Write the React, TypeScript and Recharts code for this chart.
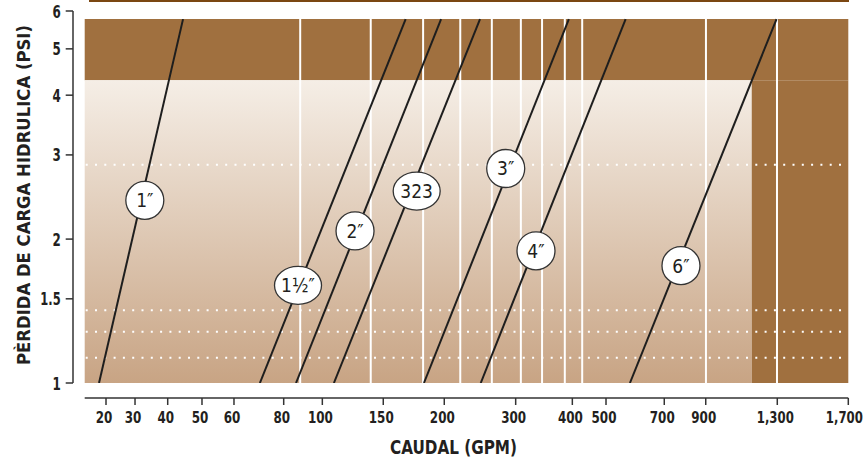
import React from "react";
import {
  LineChart,
  Line,
  XAxis,
  YAxis,
  ReferenceArea,
  ReferenceLine,
  ReferenceDot,
} from "recharts";

const FONT = '"Liberation Sans Narrow", "DejaVu Sans Condensed", "Arial Narrow", sans-serif';
const INK = "#231f20";

// Eje X: caudal (GPM)
const GPM_TICKS = [20, 30, 40, 50, 60, 80, 100, 150, 200, 300, 400, 500, 700, 900, 1300, 1700];
const GPM_TICK_LABELS = ["20", "30", "40", "50", "60", "80", "100", "150", "200", "300", "400", "500", "700", "900", "1,300", "1,700"];

// Eje Y: pérdida de carga (PSI)
const PSI_TICKS = [1, 1.5, 2, 3, 4, 5, 6];

// Curvas por diámetro
const PIPES = ["1″", "1½″", "2″", "323", "3″", "4″", "6″"];
const GPM_AT_1_PSI = [18.2, 69.7, 85.9, 108, 181.7, 246, 574];
const GPM_AT_TOP = [44.2, 166.7, 197, 245, 393, 560, 1295];
const TOP_PSI = 5.77;
const LABEL_GPM = [32.7, 86.9, 124.3, 175.6, 283.5, 332.6, 774.6];
const LABEL_PSI = [2.41, 1.6, 2.08, 2.52, 2.81, 1.89, 1.76];

// Fondo
const BAND_PSI = [4.3, 5.77];
const SHADE_END_GPM = 1140;
const GRID_GPM = [88, 138, 181, 219, 262, 308, 343, 385, 427, 901, 1298];
const DOTTED_PSI = [2.86, 1.42, 1.28, 1.13];

// la escala impresa no es un log puro: [GPM, fracción del eje]
const X_STOPS: [number, number][] = [
  [15, 0],
  [20, 0.0279],
  [30, 0.0659],
  [40, 0.1087],
  [50, 0.1536],
  [60, 0.1955],
  [80, 0.2606],
  [100, 0.3112],
  [150, 0.391],
  [200, 0.4709],
  [300, 0.5644],
  [400, 0.6386],
  [500, 0.6827],
  [700, 0.759],
  [900, 0.8133],
  [1300, 0.907],
  [1700, 1],
];

function toAxis(gpm: number): number {
  for (let i = 0; i < X_STOPS.length - 1; i++) {
    const [g0, f0] = X_STOPS[i];
    const [g1, f1] = X_STOPS[i + 1];
    if (gpm <= g1 || i === X_STOPS.length - 2) {
      const t = Math.log(gpm / g0) / Math.log(g1 / g0);
      return f0 + t * (f1 - f0);
    }
  }
  return 0;
}

const X_TICKS = GPM_TICKS.map(toAxis);

function xTickIndex(u: number): number {
  let best = 0;
  X_TICKS.forEach((t, i) => {
    if (Math.abs(t - u) < Math.abs(X_TICKS[best] - u)) best = i;
  });
  return best;
}

// ancho aproximado de la fuente condensada del original
function labelWidth(s: string): number {
  let w = 0;
  for (const ch of s) w += ch === "," || ch === "." ? 3.8 : 8.3;
  return w;
}

const lineData = PIPES.map((_, i) => [
  { u: toAxis(GPM_AT_1_PSI[i]), psi: 1 },
  { u: toAxis(GPM_AT_TOP[i]), psi: TOP_PSI },
]);

// eslint-disable-next-line @typescript-eslint/no-explicit-any
function XTick({ x, y, payload }: any) {
  const idx = xTickIndex(payload.value);
  const label = GPM_TICK_LABELS[idx];
  const last = idx === GPM_TICK_LABELS.length - 1;
  return (
    <text
      x={last ? x + 14.5 : x - 2}
      y={y + 13}
      textAnchor={last ? "end" : "middle"}
      fontSize={16}
      fontWeight={700}
      fontFamily={FONT}
      fill={INK}
      textLength={labelWidth(label)}
      lengthAdjust="spacingAndGlyphs"
    >
      {label}
    </text>
  );
}

// eslint-disable-next-line @typescript-eslint/no-explicit-any
function YTick({ x, y, payload }: any) {
  const label = String(payload.value);
  return (
    <text x={x} y={y + 6.5} textAnchor="end" fontSize={17} fontWeight={700} fontFamily={FONT} fill={INK} textLength={labelWidth(label)} lengthAdjust="spacingAndGlyphs">
      {label}
    </text>
  );
}

// eslint-disable-next-line @typescript-eslint/no-explicit-any
function Bubble({ cx, cy, text }: any) {
  const rx = text.length > 2 ? 23.5 : 19;
  return (
    <g>
      <ellipse cx={cx} cy={cy} rx={rx} ry={19} fill="#fff" stroke="#333" strokeWidth={1.3} />
      <text x={cx} y={cy + 7} textAnchor="middle" fontSize={19} fontFamily={FONT} fill={INK}>
        {text}
      </text>
    </g>
  );
}

const lineStyle = { stroke: "#333", strokeWidth: 1.5 };

export default function App() {
  return (
    <div style={{ position: "absolute", left: 0, top: 0, width: 867, height: 458, background: "#fff" }}>
      <div style={{ position: "absolute", left: 89, top: 0, width: 760, height: 2, background: "#7B4712" }} />
      <LineChart width={867} height={458} margin={{ top: 11, right: 18.7, bottom: 0, left: 0 }}>
        <defs>
          <linearGradient id="shade" x1="0" y1="0" x2="0" y2="1">
            <stop offset="0%" stopColor="#F5EEE6" />
            <stop offset="100%" stopColor="#C8A484" />
          </linearGradient>
        </defs>

        {/* ejes vacíos que separan los ejes visibles del área del gráfico */}
        <XAxis xAxisId="aPad" type="number" domain={[0, 1]} allowDataOverflow height={15} axisLine={false} tickLine={false} tick={false} />
        <YAxis yAxisId="aPad" type="number" scale="log" domain={[1, 6]} allowDataOverflow width={11.7} axisLine={false} tickLine={false} tick={false} />

        <XAxis
          xAxisId="gpm"
          type="number"
          dataKey="u"
          domain={[0, 1]}
          allowDataOverflow
          ticks={X_TICKS}
          interval={0}
          height={60}
          tickSize={7}
          tickMargin={5}
          axisLine={lineStyle}
          tickLine={lineStyle}
          tick={<XTick />}
          label={() => (
            <text x={453.5} y={454} textAnchor="middle" fontSize={19} fontWeight={700} fontFamily={FONT} fill={INK} textLength={127} lengthAdjust="spacingAndGlyphs">
              CAUDAL (GPM)
            </text>
          )}
        />
        <YAxis
          yAxisId="psi"
          type="number"
          scale="log"
          domain={[1, 6]}
          allowDataOverflow
          ticks={PSI_TICKS}
          interval={0}
          width={73}
          tickSize={7.3}
          tickMargin={5}
          axisLine={lineStyle}
          tickLine={lineStyle}
          tick={<YTick />}
          label={() => (
            <text x={0} y={0} transform="translate(30,195) rotate(-90)" textAnchor="middle" fontSize={18} fontWeight={700} fontFamily={FONT} fill={INK} textLength={340} lengthAdjust="spacingAndGlyphs">
              PÈRDIDA DE CARGA HIDRULICA (PSI)
            </text>
          )}
        />

        <ReferenceArea xAxisId="gpm" yAxisId="psi" x1={0} x2={1} y1={BAND_PSI[0]} y2={BAND_PSI[1]} fill="#A0703F" fillOpacity={1} stroke="none" zIndex={-300} />
        <ReferenceArea xAxisId="gpm" yAxisId="psi" x1={0} x2={toAxis(SHADE_END_GPM)} y1={1} y2={BAND_PSI[0]} fill="url(#shade)" fillOpacity={1} stroke="none" zIndex={-300} />
        <ReferenceArea xAxisId="gpm" yAxisId="psi" x1={toAxis(SHADE_END_GPM)} x2={1} y1={1} y2={BAND_PSI[0]} fill="#A0703F" fillOpacity={1} stroke="none" zIndex={-300} />

        {GRID_GPM.map((g) => (
          <ReferenceLine key={`g${g}`} xAxisId="gpm" yAxisId="psi" x={toAxis(g)} stroke="#fff" strokeWidth={2} zIndex={-200} />
        ))}
        {DOTTED_PSI.map((p) => (
          <ReferenceLine key={`d${p}`} xAxisId="gpm" yAxisId="psi" y={p} stroke="#fff" strokeWidth={2} strokeDasharray="2 7.3" strokeDashoffset={8.3} zIndex={-200} />
        ))}

        {lineData.map((d, i) => (
          <Line
            key={PIPES[i]}
            xAxisId="gpm"
            yAxisId="psi"
            data={d}
            dataKey="psi"
            type="linear"
            stroke="#1e1e1e"
            strokeWidth={2}
            dot={false}
            activeDot={false}
            isAnimationActive={false}
          />
        ))}

        {PIPES.map((p, i) => (
          <ReferenceDot
            key={`l${i}`}
            xAxisId="gpm"
            yAxisId="psi"
            x={toAxis(LABEL_GPM[i])}
            y={LABEL_PSI[i]}
            r={19}
            zIndex={1500}
            shape={(props: any) => <Bubble cx={props.cx} cy={props.cy} text={p} />}
          />
        ))}
      </LineChart>
    </div>
  );
}
